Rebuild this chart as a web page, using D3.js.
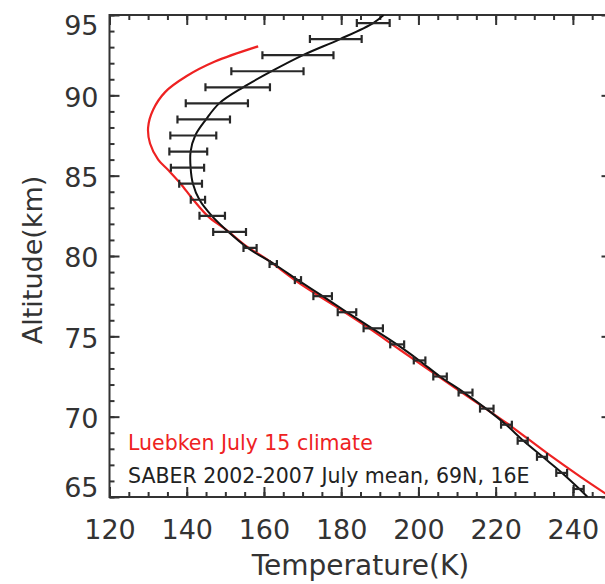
<!DOCTYPE html>
<html><head><meta charset="utf-8">
<script src="https://cdn.jsdelivr.net/npm/d3@7"></script>
<style>
body{margin:0;background:#fff;}
svg{display:block;font-family:"DejaVu Sans",sans-serif;}
</style>
</head><body>
<svg id="c" width="605" height="584"></svg>
<script>
// ---- data ----
const xTickValues = [120,140,160,180,200,220,240];
const yTickValues = [65,70,75,80,85,90,95];
const xLabel = "Temperature(K)";
const yLabel = "Altitude(km)";
const legendLabels = ["Luebken July 15 climate", "SABER 2002-2007 July mean, 69N, 16E"];

// SABER error bars (altitude, mean, half-width)
const barAlt  = [65.5,66.5,67.5,68.5,69.5,70.5,71.5,72.5,73.5,74.5,75.5,76.5,77.5,78.5,79.5,80.5,81.5,82.5,83.5,84.5,85.5,86.5,87.5,88.5,89.5,90.5,91.5,92.5,93.5,94.5];
const barMean = [241.5,237.1,232.0,227.0,222.8,217.7,212.2,205.6,200.3,194.5,188.3,181.5,175.2,168.8,162.4,156.4,151.1,146.6,142.9,141.0,140.2,140.4,141.7,144.4,147.8,153.2,160.9,168.8,178.6,188.3];
const barErr  = [1.3,1.4,1.3,1.3,1.4,1.75,1.8,1.75,1.5,1.8,2.5,2.4,2.4,0.8,0.95,1.7,4.25,3.3,1.85,2.95,4.3,4.9,5.95,6.8,8.05,8.35,9.35,9.2,6.7,4.25];

// SABER mean profile line
const saberAlt = [65.0,65.5,66.5,67.5,68.5,69.5,70.5,71.5,72.5,73.5,74.5,75.5,76.5,77.5,78.5,79.5,80.5,81.5,82.5,83.5,84.5,85.5,86.5,87.5,88.5,89.5,90.5,91.5,92.5,93.5,94.5,95.0];
const saberT   = [243.8,241.7,237.2,232.2,227.2,222.7,217.5,211.8,205.6,200.2,194.4,188.0,181.5,175.2,168.8,162.6,155.8,150.8,146.5,143.3,141.6,141.0,141.0,142.2,145.0,148.4,154.6,162.0,170.1,179.7,188.3,191.0];

// Luebken climatology line
const luebAlt = [65.0,66.27,67.73,69.59,71.87,74.15,75.6,76.95,78.26,79.8,80.6,81.6,82.45,83.5,84.53,85.35,86.0,87.0,88.0,89.1,90.2,91.2,92.1,93.05];
const luebT   = [249.8,241.9,233.3,222.9,209.0,195.3,186.6,178.0,169.4,160.7,155.5,150.4,145.6,141.7,138.3,135.2,132.6,130.5,130.0,131.3,134.4,140.0,147.3,158.5];

// ---- drawing ----
const svg = d3.select("#c");
const L = 109.5, R = 611.5, T = 15, B = 497;
const x = d3.scaleLinear().domain([120,250]).range([L,R]);
const y = d3.scaleLinear().domain([65,95]).range([B,T]);
const axisColor = "#333";
const fontSize = 27;

svg.append("clipPath").attr("id","clip").append("rect")
  .attr("x",L).attr("y",T).attr("width",R-L).attr("height",B-T);

function styleAxis(g){
  g.select(".domain").remove();
  g.selectAll(".tick line").attr("stroke",axisColor).attr("stroke-width",2);
  g.selectAll("text").attr("fill","#333").style("font-size",fontSize+"px").style("font-family","'DejaVu Sans',sans-serif");
}
const xMinor = d3.range(120,251,5);
const yMinor = d3.range(65,96,1);

// bottom
svg.append("g").attr("transform",`translate(0,${B})`)
  .call(d3.axisBottom(x).tickValues(xMinor).tickSize(-5).tickFormat("")).call(styleAxis);
svg.append("g").attr("transform",`translate(0,${B})`)
  .call(d3.axisBottom(x).tickValues(xTickValues).tickSize(-10).tickPadding(23).tickFormat(d3.format("d"))).call(styleAxis);
// top
svg.append("g").attr("transform",`translate(0,${T})`)
  .call(d3.axisTop(x).tickValues(xMinor).tickSize(-5).tickFormat("")).call(styleAxis);
svg.append("g").attr("transform",`translate(0,${T})`)
  .call(d3.axisTop(x).tickValues(xTickValues).tickSize(-10).tickFormat("")).call(styleAxis);
// left
svg.append("g").attr("transform",`translate(${L},0)`)
  .call(d3.axisLeft(y).tickValues(yMinor).tickSize(-5).tickFormat("")).call(styleAxis);
const yAx = svg.append("g").attr("transform",`translate(${L},0)`)
  .call(d3.axisLeft(y).tickValues(yTickValues).tickSize(-10).tickPadding(11).tickFormat(d3.format("d"))).call(styleAxis);
yAx.selectAll(".tick text").attr("dy", d => d===95 ? "0.72em" : (d===65 ? "-0.02em" : "0.4em"));
// right
svg.append("g").attr("transform",`translate(${R},0)`)
  .call(d3.axisRight(y).tickValues(yMinor).tickSize(-5).tickFormat("")).call(styleAxis);
svg.append("g").attr("transform",`translate(${R},0)`)
  .call(d3.axisRight(y).tickValues(yTickValues).tickSize(-10).tickFormat("")).call(styleAxis);

// frame
svg.append("rect").attr("x",L).attr("y",T).attr("width",R-L).attr("height",B-T)
  .attr("fill","none").attr("stroke",axisColor).attr("stroke-width",2);

const plot = svg.append("g").attr("clip-path","url(#clip)");

// Luebken line
plot.append("path")
  .datum(luebAlt.map((a,i)=>[luebT[i],a]))
  .attr("fill","none").attr("stroke","#ee2222").attr("stroke-width",2.2)
  .attr("d", d3.line().x(d=>x(d[0])).y(d=>y(d[1])).curve(d3.curveCatmullRom));

// SABER line
plot.append("path")
  .datum(saberAlt.map((a,i)=>[saberT[i],a]))
  .attr("fill","none").attr("stroke","#111").attr("stroke-width",2)
  .attr("d", d3.line().x(d=>x(d[0])).y(d=>y(d[1])).curve(d3.curveCatmullRom));

// error bars
const bars = plot.append("g").attr("stroke","#282828").attr("stroke-width",2.2);
barAlt.forEach((a,i)=>{
  const x0 = x(barMean[i]-barErr[i]), x1 = x(barMean[i]+barErr[i]), yy = y(a);
  bars.append("line").attr("x1",x0).attr("x2",x1).attr("y1",yy).attr("y2",yy);
  bars.append("line").attr("x1",x0).attr("x2",x0).attr("y1",yy-4).attr("y2",yy+4);
  bars.append("line").attr("x1",x1).attr("x2",x1).attr("y1",yy-4).attr("y2",yy+4);
});

// legend
svg.append("text").attr("x",128).attr("y",450).attr("fill","#ee2222")
  .style("font-size","20.5px").text(legendLabels[0]);
svg.append("text").attr("x",128).attr("y",483).attr("fill","#222")
  .style("font-size","20.5px").text(legendLabels[1]);

// axis titles
svg.append("text").attr("x",(L+R)/2).attr("y",575).attr("text-anchor","middle")
  .attr("fill","#333").style("font-size","28px").text(xLabel);
svg.append("text").attr("transform","translate(42,260) rotate(-90)").attr("text-anchor","middle")
  .attr("fill","#333").style("font-size","27px").text(yLabel);
</script>
</body></html>
